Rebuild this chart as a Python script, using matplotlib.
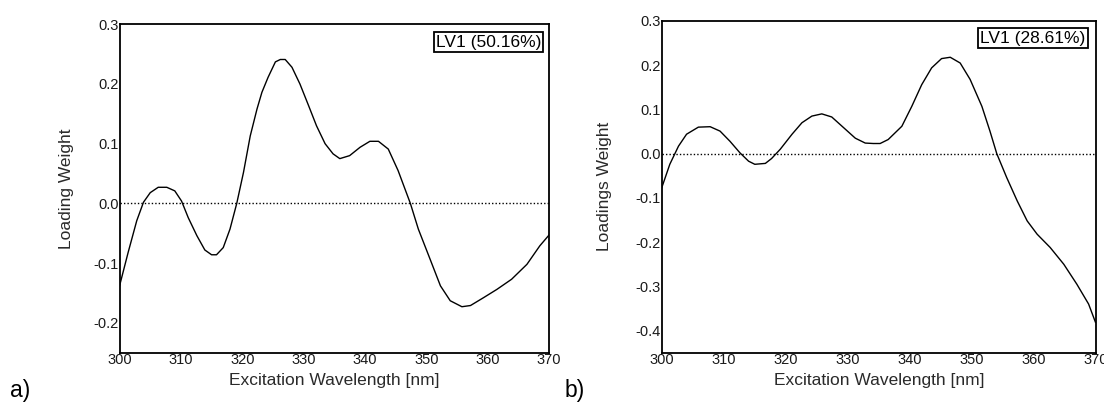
import numpy as np
import matplotlib
matplotlib.use('Agg')
from matplotlib import pyplot as plt

plt.rcParams['font.family'] = ['Liberation Sans', 'DejaVu Sans']

# panel a) LV1 loading weights
wl_a = [300.0, 301.4, 302.8, 303.9, 305.0, 306.3, 307.7, 309.0, 310.1, 311.2, 312.6, 313.9,
        315.0, 315.8, 316.9, 318.0, 319.1, 320.2, 321.3, 322.4, 323.2, 324.2, 325.4, 326.2,
        327.0, 328.1, 329.4, 330.8, 332.1, 333.5, 334.8, 335.9, 337.5, 339.2, 340.8, 342.2,
        343.8, 345.4, 347.4, 348.7, 350.6, 352.3, 353.9, 355.8, 357.2, 359.3, 361.5, 363.9,
        366.4, 368.5, 370.0]
lw_a = [-0.138, -0.082, -0.029, 0.002, 0.018, 0.027, 0.027, 0.021, 0.004, -0.024, -0.054, -0.078,
        -0.086, -0.086, -0.074, -0.043, 0.000, 0.052, 0.113, 0.158, 0.186, 0.211, 0.237, 0.241,
        0.241, 0.228, 0.200, 0.164, 0.130, 0.100, 0.083, 0.075, 0.080, 0.094, 0.104, 0.104,
        0.091, 0.055, 0.000, -0.043, -0.093, -0.138, -0.163, -0.173, -0.171, -0.158, -0.144, -0.127,
        -0.102, -0.071, -0.053]

# panel b) LV1 loadings weights
wl_b = [300.0, 301.3, 302.7, 304.0, 305.9, 307.8, 309.4, 311.0, 312.6, 314.0, 315.0, 316.7,
        317.7, 319.1, 321.0, 322.6, 324.2, 325.8, 327.4, 329.3, 331.2, 332.8, 334.1, 335.2,
        336.5, 338.7, 340.3, 341.9, 343.5, 345.1, 346.5, 348.1, 349.7, 351.6, 352.9, 354.0,
        355.6, 357.3, 358.9, 360.5, 362.6, 364.8, 366.9, 368.8, 369.9]
lw_b = [-0.077, -0.024, 0.017, 0.044, 0.060, 0.061, 0.051, 0.028, 0.002, -0.017, -0.024, -0.022,
        -0.011, 0.010, 0.044, 0.070, 0.085, 0.090, 0.083, 0.059, 0.035, 0.024, 0.023, 0.023,
        0.032, 0.062, 0.107, 0.156, 0.194, 0.215, 0.218, 0.205, 0.168, 0.107, 0.051, 0.000,
        -0.054, -0.107, -0.152, -0.182, -0.212, -0.250, -0.295, -0.340, -0.381]

xticks = [300, 310, 320, 330, 340, 350, 360, 370]

fig = plt.figure(figsize=(11.04, 4.03), dpi=100)
ax_a = fig.add_axes([0.1083, 0.1248, 0.389, 0.815])
ax_b = fig.add_axes([0.5994, 0.1248, 0.3934, 0.8231])

panels = [
    (ax_a, wl_a, lw_a, 'LV1 (50.16%)', 'Loading Weight', (-0.25, 0.3),
     [0.3, 0.2, 0.1, 0.0, -0.1, -0.2], (0.987, 0.975), 14),
    (ax_b, wl_b, lw_b, 'LV1 (28.61%)', 'Loadings Weight', (-0.45, 0.3),
     [0.3, 0.2, 0.1, 0.0, -0.1, -0.2, -0.3, -0.4], (0.981, 0.978), 17),
]

for ax, x, y, lab, ylab, ylim, yticks, legpos, ypad in panels:
    line, = ax.plot(x, y, c='black', lw=1.0, label=lab, solid_joinstyle='round')
    ax.axhline(0, c='black', lw=1.0, ls=(0, (1, 1.5)))
    ax.set_xlim(300, 370)
    ax.set_ylim(*ylim)
    ax.set_xticks(xticks)
    ax.set_yticks(yticks)
    ax.set_yticklabels([f'{v:.1f}' for v in yticks])
    ax.tick_params(length=0, pad=0.5, labelsize=10.5, colors='#1a1a1a')
    for sp in ax.spines.values():
        sp.set_linewidth(1.3)
    ax.set_xlabel('Excitation Wavelength [nm]', fontsize=12.5, color='#2a2a2a', labelpad=4)
    ax.set_ylabel(ylab, fontsize=12.5, color='#2a2a2a', labelpad=ypad)
    leg = ax.legend(handles=[line], loc='upper right', bbox_to_anchor=legpos,
                    handlelength=0, handletextpad=0, fontsize=12.5, fancybox=False,
                    framealpha=1, borderpad=0.12, borderaxespad=0)
    leg.get_frame().set_edgecolor('black')
    leg.get_frame().set_linewidth(1.3)
    for h in leg.legend_handles:
        h.set_visible(False)

fig.text(0.009, 0.014, 'a)', fontsize=16.5, va='baseline')
fig.text(0.511, 0.014, 'b)', fontsize=16.5, va='baseline')

fig.savefig('out.png', dpi=100)
